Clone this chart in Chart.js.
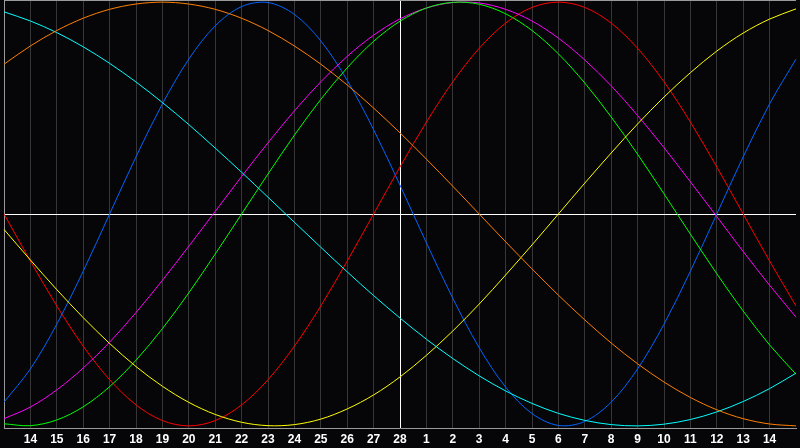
<!DOCTYPE html>
<html>
<head>
<meta charset="utf-8">
<script src="https://cdn.jsdelivr.net/npm/chart.js@4/dist/chart.umd.min.js"></script>
<style>
  html, body { margin: 0; padding: 0; background: #060609; }
  #wrap { width: 800px; height: 448px; position: relative; }
</style>
</head>
<body>
<div id="wrap"><canvas id="mycanvas"></canvas></div>
<script>
// day labels along the bottom (13th of one month to 15th of the next)
var days = ['13','14','15','16','17','18','19','20','21','22','23','24','25','26','27','28',
            '1','2','3','4','5','6','7','8','9','10','11','12','13','14','15'];
var todayIndex = 15; // the white vertical line (28)

// values, one per day, range -1..1
var red     = [0,-0.222,-0.434,-0.624,-0.782,-0.901,-0.975,-1,-0.975,-0.901,-0.782,-0.624,-0.434,-0.222,0,
               0.222,0.434,0.624,0.782,0.901,0.975,1,0.975,0.901,0.782,0.624,0.434,0.222,0,-0.222,-0.434];
var blue    = [-0.888,-0.731,-0.520,-0.270,0,0.270,0.520,0.731,0.888,0.979,0.998,0.942,0.817,0.631,0.398,
               0.136,-0.136,-0.398,-0.631,-0.817,-0.942,-0.998,-0.979,-0.888,-0.731,-0.520,-0.270,0,0.270,0.520,0.731];
var green   = [-0.990,-0.999,-0.972,-0.910,-0.815,-0.690,-0.541,-0.372,-0.189,0,0.189,0.372,0.541,0.690,0.815,
               0.910,0.972,0.999,0.990,0.945,0.866,0.756,0.618,0.458,0.282,0.095,-0.095,-0.282,-0.458,-0.618,-0.756];
var magenta = [-0.966,-0.911,-0.830,-0.727,-0.605,-0.465,-0.313,-0.152,0.012,0.177,0.336,0.487,0.624,0.744,0.844,
               0.921,0.972,0.998,0.996,0.966,0.911,0.830,0.727,0.605,0.465,0.313,0.152,-0.012,-0.177,-0.336,-0.487];
var yellow  = [-0.073,-0.217,-0.357,-0.489,-0.611,-0.720,-0.813,-0.889,-0.946,-0.983,-0.999,-0.994,-0.968,-0.920,-0.854,
               -0.769,-0.667,-0.552,-0.425,-0.288,-0.146,0,0.146,0.288,0.425,0.552,0.667,0.769,0.854,0.920,0.968];
var cyan    = [0.954,0.911,0.856,0.789,0.711,0.623,0.526,0.422,0.311,0.197,0.079,-0.039,-0.157,-0.273,-0.385,
               -0.491,-0.591,-0.682,-0.764,-0.835,-0.894,-0.941,-0.974,-0.994,-1.0,-0.992,-0.970,-0.934,-0.885,-0.824,-0.751];
var orange  = [0.707,0.793,0.866,0.924,0.966,0.991,1.0,0.991,0.966,0.924,0.866,0.793,0.707,0.609,0.500,
               0.383,0.259,0.131,0,-0.131,-0.259,-0.383,-0.500,-0.609,-0.707,-0.793,-0.866,-0.924,-0.966,-0.991,-1.0];

function line(data, color) {
  return {
    data: data,
    borderColor: color,
    borderWidth: 1,
    pointRadius: 0,
    fill: false,
    tension: 0.33
  };
}

// dark background + thin grey frame on top
var frame = {
  id: 'frame',
  beforeDraw: function(chart) {
    var c = chart.ctx;
    c.save();
    c.fillStyle = '#060609';
    c.fillRect(0, 0, chart.width, chart.height);
    c.restore();
  },
  afterDraw: function(chart) {
    var c = chart.ctx, a = chart.chartArea;
    c.save();
    c.strokeStyle = '#9a9a9a';
    c.lineWidth = 1;
    c.beginPath();
    c.moveTo(a.left, a.top + 0.5);
    c.lineTo(a.right, a.top + 0.5);
    c.stroke();
    c.restore();
  }
};

var ctx = document.getElementById('mycanvas');

new Chart(ctx, {
  type: 'line',
  data: {
    labels: days,
    datasets: [
      line(orange, '#ff8000'),
      line(cyan, '#00ffff'),
      line(yellow, '#ffff00'),
      line(green, '#00ff00'),
      line(magenta, '#ff00ff'),
      line(blue, '#0066ff'),
      line(red, '#ff0000')
    ]
  },
  options: {
    responsive: true,
    maintainAspectRatio: false,
    animation: false,
    layout: { padding: 0 },
    plugins: {
      legend: { display: false },
      tooltip: { enabled: false }
    },
    scales: {
      x: {
        offset: false,
        afterFit: function(scale) { scale.height = 20; },
        border: { display: true, color: '#9a9a9a', width: 1 },
        grid: {
          drawTicks: false,
          lineWidth: 1,
          color: function(c) {
            if (c.index === todayIndex) return '#ffffff';
            if (c.index === 0) return '#9a9a9a';
            if (c.index === days.length - 1) return 'rgba(0,0,0,0)';
            return '#363636';
          }
        },
        ticks: {
          autoSkip: false,
          maxRotation: 0,
          padding: 4,
          color: '#ffffff',
          font: { family: '"Liberation Sans", Arial, sans-serif', size: 12, weight: 'bold' },
          callback: function(val, i) {
            if (i === 0 || i === days.length - 1) return '';
            return days[i];
          }
        }
      },
      y: {
        min: -1.01,
        max: 1.01,
        afterFit: function(scale) { scale.width = 0; },
        afterBuildTicks: function(scale) { scale.ticks = [{ value: 0 }]; },
        border: { display: false },
        grid: {
          drawTicks: false,
          color: function(c) { return c.tick && c.tick.value === 0 ? '#ffffff' : 'rgba(0,0,0,0)'; }
        },
        ticks: { display: false }
      }
    }
  },
  plugins: [frame]
});
</script>
</body>
</html>
